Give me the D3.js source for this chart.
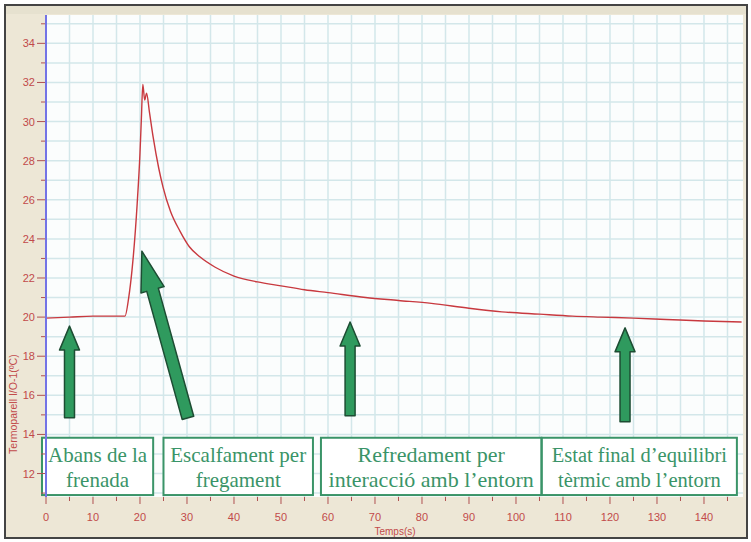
<!DOCTYPE html>
<html>
<head>
<meta charset="utf-8">
<script src="https://d3js.org/d3.v7.min.js"></script>
<style>
  html, body { margin: 0; padding: 0; background: #fff; }
  svg { display: block; }
</style>
</head>
<body>
<div id="chart"></div>
<script>
// Temperature readings (s, ºC)
const times = [0, 5, 10, 16.8, 17.6, 18.3, 19.4, 20.0, 20.3, 20.6, 21.0, 21.4, 22.0, 22.8, 24.0, 24.9, 26.5, 28.5, 30.5, 32.8, 36.0, 40.0, 45, 50, 55, 60, 68, 75, 82, 90, 97, 105, 112, 118, 125, 132, 140, 148];
const temps = [19.95, 20.0, 20.05, 20.05, 21.0, 22.4, 25.8, 28.4, 30.2, 31.9, 31.1, 31.45, 30.5, 29.2, 27.6, 26.65, 25.4, 24.4, 23.6, 23.07, 22.55, 22.1, 21.8, 21.6, 21.4, 21.25, 21.0, 20.85, 20.7, 20.45, 20.27, 20.15, 20.05, 20.0, 19.95, 19.88, 19.8, 19.75];

const xTickLabels = [0, 10, 20, 30, 40, 50, 60, 70, 80, 90, 100, 110, 120, 130, 140];
const yTickLabels = [12, 14, 16, 18, 20, 22, 24, 26, 28, 30, 32, 34];

// Phase labels (two lines each) and the span of time each box covers
const phaseLines = [
  ["Abans de la", "frenada"],
  ["Escalfament per", "fregament"],
  ["Refredament per", "interacció amb l’entorn"],
  ["Estat final d’equilibri", "tèrmic amb l’entorn"]
];
const phaseStart = [-0.85, 25.0, 58.5, 105.5];
const phaseEnd = [22.8, 56.8, 105.4, 147];

// Arrows: tail -> tip, in data units
const arrowTail = [[5, 14.85], [30.2, 14.85], [64.7, 14.95], [123.2, 14.65]];
const arrowTip = [[5, 19.54], [20.4, 23.37], [64.7, 19.75], [123.2, 19.45]];

function draw() {
  const W = 751, H = 542;
  const plot = { left: 46, right: 743, top: 15, bottom: 497 };

  const svg = d3.select('#chart').append('svg')
    .attr('width', W).attr('height', H);

  // window background + frame
  svg.append('rect').attr('x', 0).attr('y', 0).attr('width', W).attr('height', H).attr('fill', '#fff');
  svg.append('rect').attr('x', 5).attr('y', 5).attr('width', 742).attr('height', 533)
    .attr('fill', '#ede7d6').attr('stroke', '#444').attr('stroke-width', 2);
  svg.append('rect').attr('x', 6).attr('y', 6).attr('width', 740).attr('height', 8).attr('fill', '#e6e1cf');

  let xScale = d3.scaleLinear().domain([0, 148.3]).range([plot.left, plot.right]);
  let yScale = d3.scaleLinear().domain([10.8, 35.45]).range([plot.bottom, plot.top]);

  // plot area
  svg.append('rect')
    .attr('x', plot.left).attr('y', plot.top)
    .attr('width', plot.right - plot.left).attr('height', plot.bottom - plot.top)
    .attr('fill', '#fbfdfd');

  // grid: every 5 s and every 1 ºC
  const grid = svg.append('g').attr('class', 'grid');
  grid.selectAll('line.v').data(d3.range(5, 148.3, 5)).join('line')
    .attr('class', 'v')
    .attr('x1', d => xScale(d)).attr('x2', d => xScale(d))
    .attr('y1', plot.top).attr('y2', plot.bottom)
    .attr('stroke', '#d3e7ea').attr('stroke-width', 1.5);
  grid.selectAll('line.h').data(d3.range(11, 35.45, 1)).join('line')
    .attr('class', 'h')
    .attr('x1', plot.left).attr('x2', plot.right)
    .attr('y1', d => yScale(d)).attr('y2', d => yScale(d))
    .attr('stroke', '#d3e7ea').attr('stroke-width', 1.5);

  // temperature curve
  const data = times.map((t, i) => ({ t: t, v: temps[i] }));
  const line = d3.line().curve(d3.curveMonotoneX).x(d => xScale(d.t)).y(d => yScale(d.v));
  svg.append('path').datum(data)
    .attr('d', line)
    .attr('fill', 'none')
    .attr('stroke', '#c8393f')
    .attr('stroke-width', 1.4)
    .attr('stroke-linejoin', 'round');

  // phase boxes
  const sizes = [21, 21, 22, 20.5];
  const boxes = svg.append('g').attr('class', 'phases');
  phaseLines.forEach((lines, i) => {
    const x0 = xScale(phaseStart[i]), x1 = xScale(phaseEnd[i]);
    const y0 = yScale(13.83), y1 = yScale(10.9);
    boxes.append('rect')
      .attr('x', x0).attr('y', y0).attr('width', x1 - x0).attr('height', y1 - y0)
      .attr('fill', '#fff').attr('stroke', '#3a9468').attr('stroke-width', 2);
    lines.forEach((s, j) => {
      boxes.append('text')
        .attr('x', (x0 + x1) / 2)
        .attr('y', y0 + 24 + j * 25)
        .attr('text-anchor', 'middle')
        .attr('font-family', '"Liberation Serif", "DejaVu Serif", serif')
        .attr('font-size', sizes[i])
        .attr('fill', '#3a9468')
        .text(s);
    });
  });

  // arrows
  function arrowPath(tail, tip, shaftW, headW, headL) {
    const x0 = xScale(tail[0]), y0 = yScale(tail[1]);
    const x1 = xScale(tip[0]), y1 = yScale(tip[1]);
    const dx = x1 - x0, dy = y1 - y0, len = Math.hypot(dx, dy);
    const ux = dx / len, uy = dy / len, nx = -uy, ny = ux;
    const bx = x1 - ux * headL, by = y1 - uy * headL;
    const pts = [
      [x0 + nx * shaftW, y0 + ny * shaftW],
      [bx + nx * shaftW, by + ny * shaftW],
      [bx + nx * headW, by + ny * headW],
      [x1, y1],
      [bx - nx * headW, by - ny * headW],
      [bx - nx * shaftW, by - ny * shaftW],
      [x0 - nx * shaftW, y0 - ny * shaftW]
    ];
    return 'M' + pts.map(p => p.join(',')).join('L') + 'Z';
  }
  const arrows = svg.append('g').attr('class', 'arrows');
  arrowTail.forEach((tail, i) => {
    const diag = i === 1;
    arrows.append('path')
      .attr('d', arrowPath(tail, arrowTip[i], diag ? 6 : 5, diag ? 12 : 10, diag ? 40 : 24))
      .attr('fill', '#2f9a5e')
      .attr('stroke', '#1d4d33')
      .attr('stroke-width', 1.5)
      .attr('stroke-linejoin', 'round');
  });

  // y axis
  const yAxisG = svg.append('g').attr('class', 'y axis');
  yAxisG.selectAll('line.minor').data(d3.range(11, 35.45, 1)).join('line')
    .attr('class', 'minor')
    .attr('x1', d => (d % 2 === 0 ? plot.left - 9 : plot.left - 5)).attr('x2', plot.left)
    .attr('y1', d => yScale(d)).attr('y2', d => yScale(d))
    .attr('stroke', '#b05050').attr('stroke-width', 1);
  yAxisG.selectAll('text').data(yTickLabels).join('text')
    .attr('x', plot.left - 11).attr('y', d => yScale(d) + 4)
    .attr('text-anchor', 'end')
    .attr('font-family', '"Liberation Sans", Arial, sans-serif')
    .attr('font-size', 11)
    .attr('fill', '#c24a4a')
    .text(d => d);
  yAxisG.append('line')
    .attr('x1', plot.left).attr('x2', plot.left)
    .attr('y1', plot.top).attr('y2', plot.bottom)
    .attr('stroke', '#7373e6').attr('stroke-width', 2);
  yAxisG.append('text')
    .attr('transform', `translate(17, ${yScale(15.55)}) rotate(-90)`)
    .attr('text-anchor', 'middle')
    .attr('font-family', '"Liberation Sans", Arial, sans-serif')
    .attr('font-size', 10.5)
    .attr('fill', '#c24a4a')
    .text('Termoparell I/O-1(ºC)');

  // x axis
  const xAxisG = svg.append('g').attr('class', 'x axis');
  xAxisG.selectAll('line').data(d3.range(0, 148.3, 5)).join('line')
    .attr('x1', d => xScale(d)).attr('x2', d => xScale(d))
    .attr('y1', plot.bottom).attr('y2', d => (d % 10 === 0 ? plot.bottom + 7 : plot.bottom + 4))
    .attr('stroke', '#b05050').attr('stroke-width', 1);
  xAxisG.selectAll('text').data(xTickLabels).join('text')
    .attr('x', d => xScale(d)).attr('y', plot.bottom + 24)
    .attr('text-anchor', 'middle')
    .attr('font-family', '"Liberation Sans", Arial, sans-serif')
    .attr('font-size', 11)
    .attr('fill', '#c24a4a')
    .text(d => d);
  xAxisG.append('text')
    .attr('x', 395).attr('y', 535)
    .attr('text-anchor', 'middle')
    .attr('font-family', '"Liberation Sans", Arial, sans-serif')
    .attr('font-size', 10)
    .attr('fill', '#c24a4a')
    .text('Temps(s)');
}
draw();
</script>
</body>
</html>
